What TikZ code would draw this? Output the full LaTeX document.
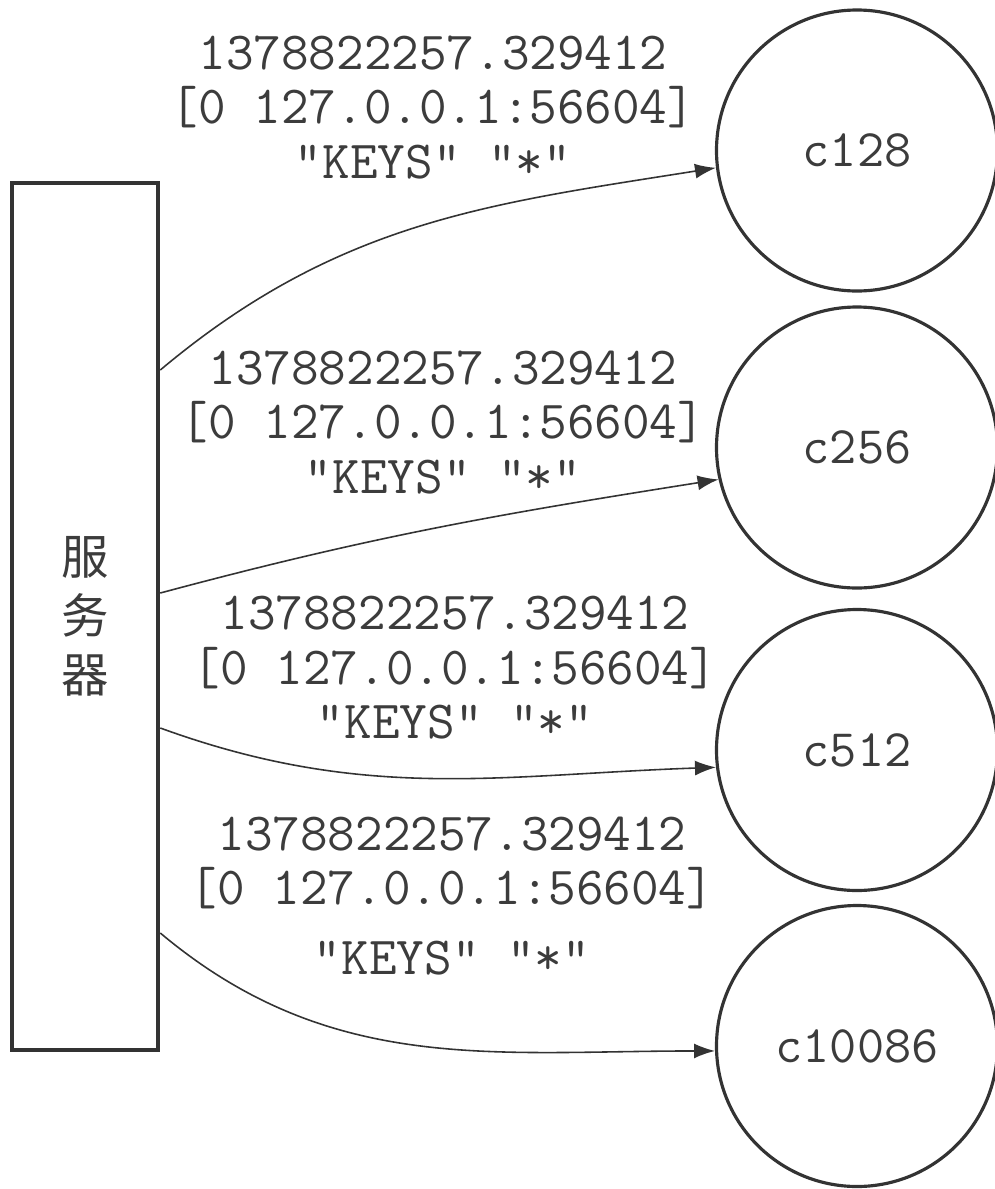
\documentclass[tikz,border=0pt]{standalone}
\usepackage{fontspec}
\newfontfamily\cjk{Noto Sans CJK SC}
\usetikzlibrary{arrows.meta, positioning}
\definecolor{inkgray}{HTML}{333333}
\definecolor{txtgray}{HTML}{3C3C3C}

\tikzset{
  client/.style={draw=inkgray, line width=1.8pt, circle, minimum size=5.62cm,
                 inner sep=0pt, text=txtgray, font=\ttfamily\fontsize{30}{31}\selectfont},
  msg/.style={text=txtgray, align=center, inner sep=0pt,
              font=\ttfamily\fontsize{30.5}{31}\selectfont},
  link/.style={draw=inkgray, line width=0.9pt, -{Latex[length=4.2mm, width=3mm]}}
}

\begin{document}
\begin{tikzpicture}

% Canvas
\useasboundingbox (0,0) rectangle (19.9,-23.78);

% Server box
\node[draw=inkgray, line width=2.6pt, minimum width=2.92cm, minimum height=17.34cm,
      inner sep=0pt, text=txtgray, align=center,
      font=\cjk\fontsize{27}{33.5}\selectfont] (srv) at (1.70,-12.33) {服\\务\\器};

% Clients
\node[client] (c128) at (17.14,-3.01) {c128};
\node[client] (c256) at (17.14,-8.95) {c256};
\node[client] (c512) at (17.14,-15.00) {c512};
\node[client] (c10086) at (17.14,-20.92) {c10086};

% Messages
\node[msg] (m128) at (8.66,-2.15) {1378822257.329412\\{[}0 127.0.0.1:56604{]}\\"KEYS" "*"};
\node[msg] (m256) at (8.86,-8.45) {1378822257.329412\\{[}0 127.0.0.1:56604{]}\\"KEYS" "*"};
\node[msg] (m512) at (9.10,-13.36) {1378822257.329412\\{[}0 127.0.0.1:56604{]}\\"KEYS" "*"};
\node[msg] (m10086) at (9.04,-17.92) {1378822257.329412\\{[}0 127.0.0.1:56604{]}\\[9pt]"KEYS" "*"};

% Connectors
\draw[link] ([yshift=4.93cm]srv.east) to[out=40, in=189] (c128.187);
\draw[link] ([yshift=0.47cm]srv.east) to[out=15, in=189] (c256.193);
\draw[link] ([yshift=-2.23cm]srv.east) to[out=-20, in=182] (c512.187);
\draw[link] ([yshift=-6.33cm]srv.east) to[out=-40, in=180] (c10086.182);

\end{tikzpicture}
\end{document}
